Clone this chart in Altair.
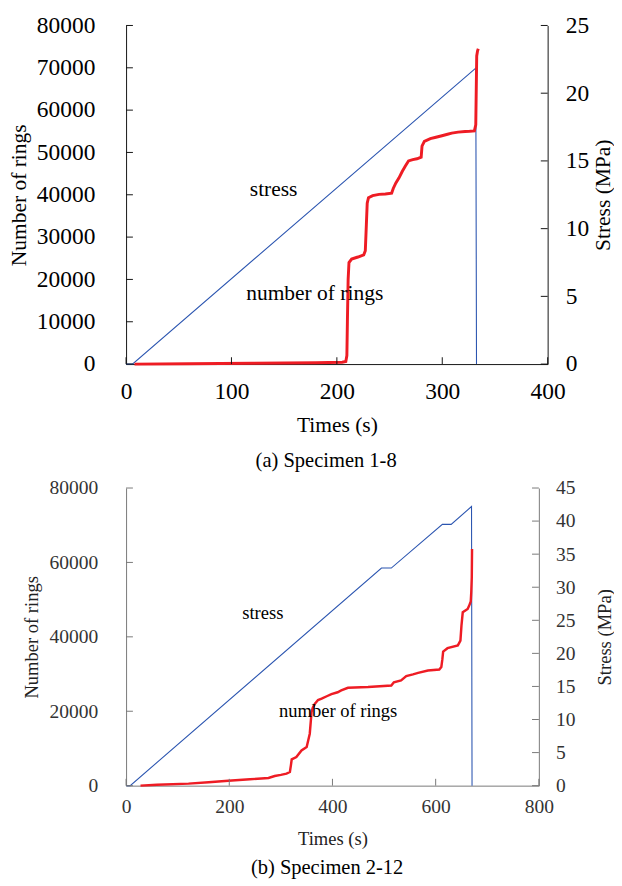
import altair as alt
import pandas as pd

FONT = "Liberation Serif"
RED = "#ee1c24"
BLUE = "#2b55b0"

# ---------------- Panel (a) Specimen 1-8 ----------------
a_ring_t = [8, 60, 120, 180, 205, 208.5, 209.5, 210, 210.7, 211.5, 214, 220, 225.5, 227,
            228, 228.8, 230, 234, 240, 246, 252, 253.5, 256, 259, 262, 265, 268, 272, 276,
            280, 280.8, 283, 288.7, 294, 299.7, 305, 309, 315, 321.7, 326, 330.5, 331.8,
            332.7, 333.5, 334.2]
a_ring_n = [0, 100, 180, 300, 450, 600, 2000, 10000, 20000, 24000, 24800, 25300, 25800, 26800,
            33000, 38000, 39300, 39800, 40100, 40200, 40400, 41500, 42800, 44000, 45500, 46800,
            48000, 48300, 48500, 48900, 51500, 52600, 53260, 53600, 53950, 54300, 54580, 54800,
            54950, 55000, 55100, 56500, 72800, 74000, 74500]
a_stress_t = [0, 6, 331.8, 332.5]
a_stress_s = [0, 0, 21.85, 0]
a_x_ticks = [0, 100, 200, 300, 400]
a_left_ticks = [0, 10000, 20000, 30000, 40000, 50000, 60000, 70000, 80000]
a_right_ticks = [0, 5, 10, 15, 20, 25]
a_notes = ["stress", "number of rings"]
a_note_t = [140, 179]
a_note_n = [41300, 16850]

# ---------------- Panel (b) Specimen 2-12 ----------------
b_ring_t = [28, 60, 121, 160, 198, 240, 276, 288, 300, 311, 317.5, 319.5, 321, 330, 340, 350,
            356, 359.5, 362, 366, 372, 379, 390, 398, 410, 417, 430, 469, 514, 519, 533, 543,
            556, 566, 585, 607, 611, 613, 614.5, 623, 643, 648, 650, 652.5, 662, 665, 668,
            669, 670, 670.5]
b_ring_n = [0, 250, 540, 900, 1340, 1700, 2060, 2600, 2900, 3220, 3670, 5500, 7060, 7700, 9480,
            10380, 13960, 19800, 21000, 22000, 23000, 23400, 24100, 24600, 25100, 25600, 26300,
            26500, 26900, 27800, 28300, 29450, 29900, 30300, 30950, 31200, 31900, 34000, 36050,
            36950, 37700, 39000, 43000, 46600, 47500, 48400, 49500, 52000, 56000, 63600]
b_stress_t = [0, 8, 495, 514, 613, 630, 669.5, 670.5]
b_stress_s = [0, 0, 32.9, 32.9, 39.5, 39.5, 42.2, 0]
b_x_ticks = [0, 200, 400, 600, 800]
b_left_ticks = [0, 20000, 40000, 60000, 80000]
b_right_ticks = [0, 5, 10, 15, 20, 25, 30, 35, 40, 45]
b_notes = ["stress", "number of rings"]
b_note_t = [265, 411]
b_note_n = [46500, 19900]


def panel(ring_t, ring_n, st_t, st_s, xt, lt, rt, notes, note_t, note_n,
          xmax, ymax, smax, W, H, caption, st):
    xscale = alt.Scale(domain=[0, xmax], nice=False, zero=False)
    yscale = alt.Scale(domain=[0, ymax], nice=False)
    sscale = alt.Scale(domain=[0, smax], nice=False)

    df_r = pd.DataFrame({"t": ring_t, "n": ring_n, "i": range(len(ring_t))})
    df_s = pd.DataFrame({"t": st_t, "s": st_s, "i": range(len(st_t))})
    df_xt = pd.DataFrame({"v": xt})
    df_lt = pd.DataFrame({"v": lt})
    df_rt = pd.DataFrame({"v": rt})
    df_notes = pd.DataFrame({"label": notes, "t": note_t, "n": note_n})

    common = dict(grid=False, ticks=False, tickSize=0, domainColor=st["axc"],
                  domainWidth=1, labelFont=FONT, labelFontSize=st["lfs"],
                  labelColor=st["lc"], labelFlush=False, labelOverlap=False,
                  titleFont=FONT, titleFontWeight="normal", titleColor=st["tc"],
                  format="d")
    xaxis = alt.Axis(values=xt, title="Times (s)", orient="bottom",
                     labelPadding=st["xlp"], titlePadding=st["xtp"],
                     titleFontSize=st["xtfs"], **common)

    def X(field):
        return alt.X(field, scale=xscale, axis=xaxis)

    rings = alt.Chart(df_r).mark_line(color=RED, strokeWidth=st["rw"]).encode(
        x=X("t:Q"),
        y=alt.Y("n:Q", scale=yscale,
                axis=alt.Axis(values=lt, title="Number of rings", orient="left",
                              labelPadding=st["llp"], titlePadding=st["ltp"],
                              titleFontSize=st["ytfs"], **common)),
        order="i:Q",
    )
    lticks = alt.Chart(df_lt).mark_rule(color=st["axc"], strokeWidth=1).encode(
        y=alt.Y("v:Q", scale=yscale, axis=None),
        x=alt.value(0), x2=alt.value(7),
    )
    xticks = alt.Chart(df_xt).mark_rule(color=st["axc"], strokeWidth=1).encode(
        x=X("v:Q"),
        y=alt.value(H), y2=alt.value(H - 7),
    )
    texts = alt.Chart(df_notes).mark_text(font=FONT, fontSize=st["nfs"], color="black").encode(
        x=X("t:Q"),
        y=alt.Y("n:Q", scale=yscale, axis=None),
        text="label:N",
    )
    stress = alt.Chart(df_s).mark_line(color=BLUE, strokeWidth=1.1).encode(
        x=X("t:Q"),
        y=alt.Y("s:Q", scale=sscale,
                axis=alt.Axis(values=rt, title="Stress (MPa)", orient="right",
                              titleAngle=270, titleBaseline="top",
                              labelPadding=st["rlp"], titlePadding=st["rtp"],
                              titleFontSize=st["ytfs"], **common)),
        order="i:Q",
    )
    rticks = alt.Chart(df_rt).mark_rule(color=st["axc"], strokeWidth=1).encode(
        y=alt.Y("v:Q", scale=sscale, axis=None),
        x=alt.value(W - 7), x2=alt.value(W),
    )
    lay = alt.layer(stress, rings, lticks, xticks, texts, rticks)

    return lay.resolve_scale(y="independent").properties(
        width=W, height=H,
        title=alt.TitleParams(text=caption, orient="bottom", font=FONT,
                              fontSize=21, fontWeight="normal", color="black",
                              offset=st["cap_off"], anchor="middle", frame="bounds",
                              dx=st["cap_dx"]),
    )


style_a = dict(axc="#111111", lc="#000000", tc="#000000", lfs=24, xtfs=22, ytfs=22,
               nfs=22, rw=3, xlp=16, xtp=12, llp=32, ltp=6, rlp=18, rtp=4, cap_off=15,
               cap_dx=16)
style_b = dict(axc="#777777", lc="#333333", tc="#222222", lfs=20, xtfs=19, ytfs=19,
               nfs=19, rw=2.5, xlp=12, xtp=13, llp=29, ltp=8, rlp=17, rtp=21, cap_off=10,
               cap_dx=9)

pa = panel(a_ring_t, a_ring_n, a_stress_t, a_stress_s, a_x_ticks, a_left_ticks,
           a_right_ticks, a_notes, a_note_t, a_note_n, 400, 80000, 25, 432, 347,
           "(a) Specimen 1-8", style_a)
pb = panel(b_ring_t, b_ring_n, b_stress_t, b_stress_s, b_x_ticks, b_left_ticks,
           b_right_ticks, b_notes, b_note_t, b_note_n, 800, 80000, 45, 423, 305,
           "(b) Specimen 2-12", style_b)

chart = alt.concat(pa, pb, columns=1, spacing=8, align="none").properties(
    padding={"top": -5, "left": 0, "right": 0, "bottom": 0}).configure_view(stroke=None)

chart.save("out.html", embed_options={"renderer": "svg", "actions": False})
